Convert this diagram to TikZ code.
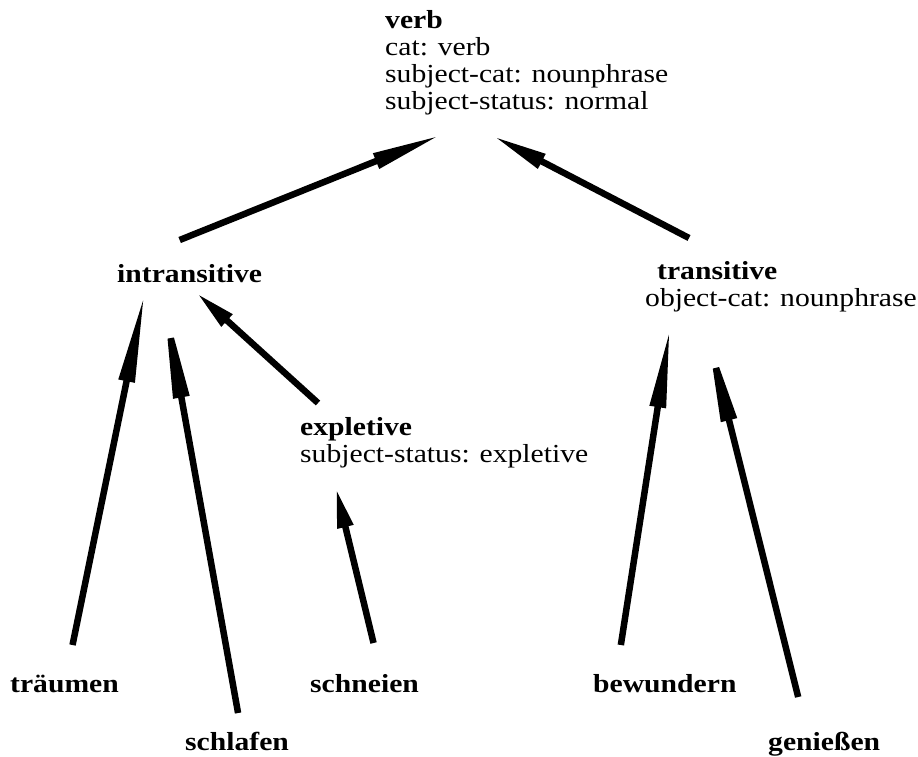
\documentclass[tikz,border=0pt]{standalone}
\usepackage{fontspec}
\setmainfont{Liberation Serif}[FakeStretch=1.14]
\usetikzlibrary{arrows.meta}
\begin{document}
\begin{tikzpicture}[x=1pt,y=-1pt,
    every node/.style={inner sep=0pt,anchor=base west,align=left,
      font=\fontsize{26}{27}\selectfont},
    link/.style={line width=6.5pt,-{Triangle[length=#1,width=15pt]}}]
      \useasboundingbox (0,0) rectangle (918,756);
      \draw
        (385,109) node (verb){\textbf{verb}\\cat: verb\\subject-cat: nounphrase\\subject-status: normal}
        (117,282) node (intrans){\textbf{intransitive}}
        (645,306) node (trans){\hspace*{12pt}\textbf{transitive}\\object-cat: nounphrase}
        (300,462) node (expl){\textbf{expletive}\\subject-status: expletive}
        (10,692) node (traeumen){\textbf{träumen}}
        (185,750) node (schlafen){\textbf{schlafen}}
        (310,692) node (schneien){\textbf{schneien}}
        (593,692) node (bewundern){\textbf{bewundern}}
        (768,750) node (geniessen){\textbf{genießen}};
      \begin{scope}[-]
        \draw[link=70pt] ([shift={(-10,-42)}]intrans.base) to ([shift={(56,26)}]verb.base west);
        \draw[link=55pt] ([shift={(44,-68)}]trans.base west) to ([shift={(108,27)}]verb.base west);
        \draw[link=90pt] ([shift={(8,-47)}]traeumen.base) to ([shift={(-45,11)}]intrans.base);
        \draw[link=106pt] ([shift={(1,-37)}]schlafen.base) to ([shift={(-27,11)}]intrans.base);
        \draw[link=41pt] ([shift={(18,-59)}]expl.base west) to ([shift={(7,11)}]intrans.base);
        \draw[link=40pt] ([shift={(9,-49)}]schneien.base) to ([shift={(36,26)}]expl.base west);
        \draw[link=80pt] ([shift={(-44,-47)}]bewundern.base) to ([shift={(25,22)}]trans.base west);
        \draw[link=95pt] ([shift={(-26,-53)}]geniessen.base) to ([shift={(61,22)}]trans.base west);
      \end{scope}
    \end{tikzpicture}
\end{document}
